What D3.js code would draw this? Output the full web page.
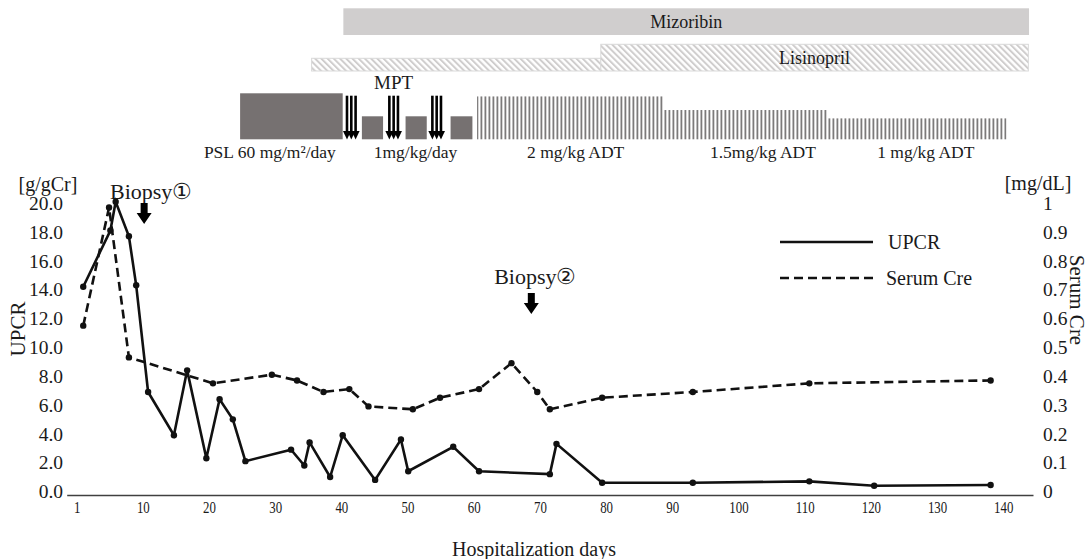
<!DOCTYPE html>
<html><head><meta charset="utf-8">
<script src="https://cdn.jsdelivr.net/npm/d3@7"></script>
<style>
body{margin:0;background:#fff;}
text{font-family:"Liberation Serif","Times New Roman",serif;fill:#1a1a1a;}
</style>
</head><body>
<svg id="c" width="1088" height="559"></svg>
<script>
// ---------- data ----------
const upcrDays   = [1,5.1,5.9,7.9,9,10.8,14.7,16.7,19.6,21.6,23.6,25.5,32.4,34.4,35.2,38.3,40.2,45.1,49,50.1,56.9,60.8,71.5,72.5,79.4,93.1,110.7,120.5,138.1];
const upcrValues = [14.1,18.0,20.0,17.6,14.2,6.8,3.8,8.3,2.2,6.3,4.9,2.0,2.8,1.7,3.3,0.9,3.8,0.7,3.5,1.3,3.0,1.3,1.1,3.2,0.5,0.5,0.6,0.3,0.35];
const creDays    = [1,4.9,7.9,20.6,29.5,33.3,37.3,41.2,44.1,50.8,54.9,60.8,65.7,69.6,71.5,79.4,93.1,110.7,138.1];
const creValues  = [0.57,0.98,0.46,0.37,0.40,0.38,0.34,0.35,0.29,0.28,0.32,0.35,0.44,0.34,0.28,0.32,0.34,0.37,0.38];
const xTickValues = [0,10,20,30,40,50,60,70,80,90,100,110,120,130,140];
const xTickLabels = ["1","10","20","30","40","50","60","70","80","90","100","110","120","130","140"];
const leftTicks  = [0,2,4,6,8,10,12,14,16,18,20];
const rightTicks = [0,0.1,0.2,0.3,0.4,0.5,0.6,0.7,0.8,0.9,1];
const biopsyDays   = [10.2, 68.7];
const biopsyLabels = ["Biopsy\u2460", "Biopsy\u2461"];
// treatments (days)
const mizoribin  = {start:40.3, end:143.9, label:"Mizoribin"};
const lisinopril = [{start:35.5,end:79.2,level:1},{start:79.2,end:143.8,level:2}];
const pslBlocks  = [{start:24.7,end:40.2,level:2.2},{start:43.1,end:46.3,level:1.1},{start:49.7,end:52.9,level:1.1},{start:56.5,end:59.8,level:1.1}];
const adtBlocks  = [{start:60.5,end:88.6,level:2.05},{start:88.6,end:113.4,level:1.4},{start:113.4,end:140.5,level:1.0}];
const mptDays    = [41.5, 47.9, 54.4];
const doseLabels = [{day:29.2,text:"PSL 60 mg/m\u00b2/day"},{day:51.2,text:"1mg/kg/day"},{day:75.4,text:"2 mg/kg ADT"},{day:103.7,text:"1.5mg/kg ADT"},{day:128.3,text:"1 mg/kg ADT"}];

// ---------- scales ----------
const svg = d3.select("#c");
const x  = d3.scaleLinear().domain([-1.5,144.5]).range([66.7,1033]);
const y  = d3.scaleLinear().domain([0,20]).range([490,201.7]);
const y2 = d3.scaleLinear().domain([0,1]).range([490,201.7]);
const dose = d3.scaleLinear().domain([0,2.2]).range([139.3,93.3]);

// ---------- patterns ----------
const defs = svg.append("defs");
const hatch = defs.append("pattern").attr("id","hatch").attr("patternUnits","userSpaceOnUse")
  .attr("width",4.4).attr("height",4.4).attr("patternTransform","rotate(-45)");
hatch.append("rect").attr("width",4.4).attr("height",4.4).attr("fill","#fff");
hatch.append("line").attr("x1",1).attr("x2",1).attr("y1",0).attr("y2",4.4).attr("stroke","#cfcdcd").attr("stroke-width",2);
const vstr = defs.append("pattern").attr("id","vstripe").attr("patternUnits","userSpaceOnUse")
  .attr("width",4).attr("height",4);
vstr.append("rect").attr("width",4).attr("height",4).attr("fill","#fff");
vstr.append("rect").attr("x",0.5).attr("width",1.8).attr("height",4).attr("fill","#7c7a7a");

// ---------- treatment panel ----------
svg.append("rect").attr("x",x(mizoribin.start)).attr("y",8.3)
  .attr("width",x(mizoribin.end)-x(mizoribin.start)).attr("height",26.7).attr("fill","#d0cece");
svg.append("text").attr("x",(x(mizoribin.start)+x(mizoribin.end))/2).attr("y",22)
  .attr("dy","0.35em").attr("text-anchor","middle").attr("font-size",18).text(mizoribin.label);

svg.selectAll(".lis").data(lisinopril).enter().append("rect")
  .attr("x",d=>x(d.start)).attr("width",d=>x(d.end)-x(d.start))
  .attr("y",d=>d.level===1?58.3:44.3).attr("height",d=>d.level===1?12.7:26.7)
  .attr("fill","url(#hatch)").attr("stroke","#d9d9d9").attr("stroke-width",1);
svg.append("text").attr("x",(x(lisinopril[1].start)+x(lisinopril[1].end))/2).attr("y",58)
  .attr("dy","0.35em").attr("text-anchor","middle").attr("font-size",18).text("Lisinopril");

svg.selectAll(".psl").data(pslBlocks).enter().append("rect")
  .attr("x",d=>x(d.start)).attr("width",d=>x(d.end)-x(d.start))
  .attr("y",d=>dose(d.level)).attr("height",d=>dose(0)-dose(d.level)).attr("fill","#767171");

svg.selectAll(".adt").data(adtBlocks).enter().append("rect")
  .attr("x",d=>x(d.start)).attr("width",d=>x(d.end)-x(d.start))
  .attr("y",d=>dose(d.level)).attr("height",d=>dose(0)-dose(d.level)).attr("fill","url(#vstripe)");

// MPT arrows
const mptG = svg.append("g");
mptDays.forEach(dd=>{
  [-4.3,0,4.3].forEach(off=>{
    const cx = x(dd)+off;
    mptG.append("rect").attr("x",cx-1.3).attr("y",95.7).attr("width",2.6).attr("height",36).attr("fill","#000");
    mptG.append("path").attr("d",`M${cx-4},131 L${cx+4},131 L${cx},139.5 Z`).attr("fill","#000");
  });
});
svg.append("text").attr("x",x(47.9)).attr("y",82.5).attr("dy","0.35em")
  .attr("text-anchor","middle").attr("font-size",19).text("MPT");

svg.selectAll(".dl").data(doseLabels).enter().append("text")
  .attr("x",d=>x(d.day)).attr("y",152).attr("dy","0.35em").attr("text-anchor","middle")
  .attr("font-size",17.5).text(d=>d.text);

// ---------- axes ----------
const xAxis = d3.axisBottom(x).tickValues(xTickValues).tickSize(0).tickPadding(6)
  .tickFormat((d,i)=>xTickLabels[i]);
const gx = svg.append("g").attr("transform","translate(0,495)").call(xAxis);
gx.select(".domain").attr("stroke","#404040").attr("stroke-width",1.6);
gx.selectAll("text").attr("font-size",16.5).attr("font-family","Liberation Serif")
  .attr("fill","#1a1a1a").attr("transform","scale(0.78,1)");

const yAxisL = d3.axisLeft(y).tickValues(leftTicks).tickSize(0).tickPadding(4).tickFormat(d3.format(".1f"));
const gl = svg.append("g").attr("transform","translate(67,1.5)").call(yAxisL);
gl.select(".domain").remove();
gl.selectAll("text").attr("font-size",19.5).attr("font-family","Liberation Serif").attr("fill","#1a1a1a");

const yAxisR = d3.axisRight(y2).tickValues(rightTicks).tickSize(0).tickPadding(3)
  .tickFormat(d=>d===0?"0":d===1?"1":d.toFixed(1));
const gr = svg.append("g").attr("transform","translate(1040,1.5)").call(yAxisR);
gr.select(".domain").remove();
gr.selectAll("text").attr("font-size",19.5).attr("font-family","Liberation Serif").attr("fill","#1a1a1a");

svg.append("text").attr("x",48).attr("y",184).attr("dy","0.35em").attr("text-anchor","middle").attr("font-size",20).text("[g/gCr]");
svg.append("text").attr("x",1038).attr("y",183).attr("dy","0.35em").attr("text-anchor","middle").attr("font-size",20).text("[mg/dL]");
svg.append("text").attr("transform","translate(18,329) rotate(-90)").attr("dy","0.35em").attr("text-anchor","middle").attr("font-size",21).text("UPCR");
svg.append("text").attr("transform","translate(1077,300) rotate(90)").attr("dy","0.35em").attr("text-anchor","middle").attr("font-size",21).text("Serum Cre");
svg.append("text").attr("x",534).attr("y",549).attr("dy","0.35em").attr("text-anchor","middle").attr("font-size",20).text("Hospitalization days");

// ---------- lines ----------
const upcr = upcrDays.map((d,i)=>({d, v:upcrValues[i]}));
const cre  = creDays.map((d,i)=>({d, v:creValues[i]}));
const lineU = d3.line().x(p=>x(p.d)).y(p=>y(p.v));
const lineC = d3.line().x(p=>x(p.d)).y(p=>y2(p.v));
svg.append("path").datum(cre).attr("d",lineC).attr("fill","none").attr("stroke","#111")
  .attr("stroke-width",2.6).attr("stroke-dasharray","9,5");
svg.append("path").datum(upcr).attr("d",lineU).attr("fill","none").attr("stroke","#111").attr("stroke-width",2.6);
svg.selectAll(".cu").data(upcr).enter().append("circle").attr("cx",p=>x(p.d)).attr("cy",p=>y(p.v)).attr("r",3.2).attr("fill","#111");
svg.selectAll(".cc").data(cre).enter().append("circle").attr("cx",p=>x(p.d)).attr("cy",p=>y2(p.v)).attr("r",3.2).attr("fill","#111");

// ---------- biopsy annotations ----------
const bY = [[191,203],[276,293]];
biopsyDays.forEach((dd,i)=>{
  const cx = x(dd);
  svg.append("text").attr("x",cx+(i===0?7:4)).attr("y",bY[i][0]).attr("dy","0.35em").attr("text-anchor","middle")
    .attr("font-size",22).text(biopsyLabels[i]);
  const t = bY[i][1];
  svg.append("path").attr("d",`M${cx-3.5},${t} L${cx+3.5},${t} L${cx+3.5},${t+10} L${cx+7.5},${t+10} L${cx},${t+21} L${cx-7.5},${t+10} L${cx-3.5},${t+10} Z`).attr("fill","#000");
});

// ---------- legend ----------
svg.append("line").attr("x1",780).attr("x2",873).attr("y1",242).attr("y2",242).attr("stroke","#111").attr("stroke-width",2.6);
svg.append("line").attr("x1",780).attr("x2",873).attr("y1",278).attr("y2",278).attr("stroke","#111").attr("stroke-width",2.6).attr("stroke-dasharray","9,5");
svg.append("text").attr("x",888).attr("y",242).attr("dy","0.35em").attr("font-size",20).text("UPCR");
svg.append("text").attr("x",886).attr("y",278).attr("dy","0.35em").attr("font-size",20).text("Serum Cre");
</script>
</body></html>
